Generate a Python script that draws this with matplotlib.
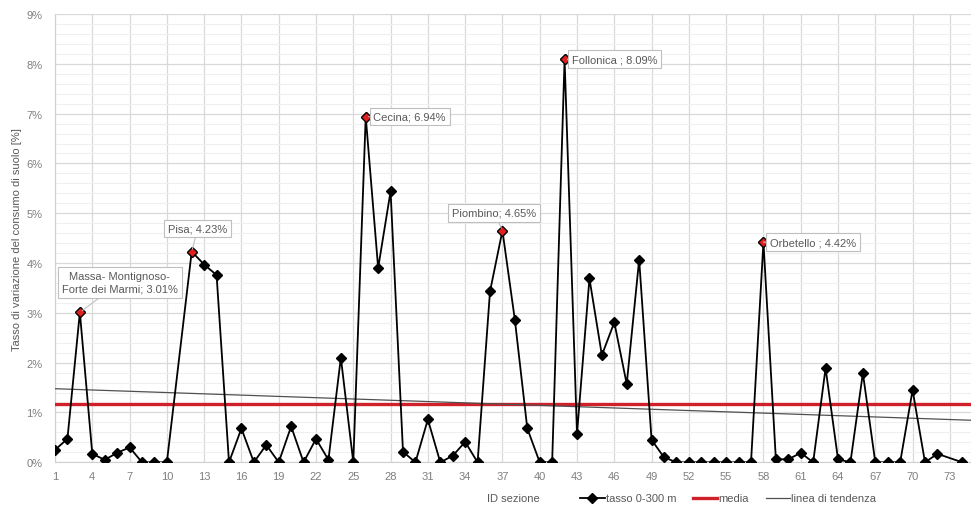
import matplotlib.pyplot as plt
import numpy as np

plt.rcParams['font.family'] = ['Liberation Sans Narrow', 'Liberation Sans', 'DejaVu Sans']

# ID sezione (11 and 73 have no value)
sezioni = [1, 2, 3, 4, 5, 6, 7, 8, 9, 10, 12, 13, 14, 15, 16, 17, 18, 19, 20,
           21, 22, 23, 24, 25, 26, 27, 28, 29, 30, 31, 32, 33, 34, 35, 36, 37,
           38, 39, 40, 41, 42, 43, 44, 45, 46, 47, 48, 49, 50, 51, 52, 53, 54,
           55, 56, 57, 58, 59, 60, 61, 62, 63, 64, 65, 66, 67, 68, 69, 70, 71,
           72, 74]
# tasso 0-300 m [%]
tasso = [0.25, 0.47, 3.01, 0.17, 0.05, 0.19, 0.30, 0.0, 0.0, 0.0, 4.23, 3.97,
         3.76, 0.0, 0.68, 0.0, 0.35, 0.0, 0.72, 0.0, 0.47, 0.05, 2.10, 0.0,
         6.94, 3.90, 5.44, 0.21, 0.0, 0.86, 0.0, 0.13, 0.41, 0.0, 3.43, 4.65,
         2.86, 0.68, 0.0, 0.0, 8.09, 0.57, 3.69, 2.15, 2.81, 1.57, 4.07, 0.45,
         0.10, 0.0, 0.0, 0.0, 0.0, 0.0, 0.0, 0.0, 4.42, 0.06, 0.06, 0.19, 0.0,
         1.89, 0.06, 0.0, 1.79, 0.0, 0.0, 0.0, 1.45, 0.0, 0.17, 0.0]

# labelled points
etichette_id = [3, 12, 26, 37, 42, 58]
etichette_txt = ['Massa- Montignoso-\nForte dei Marmi; 3.01%', 'Pisa; 4.23%',
                 'Cecina; 6.94%', 'Piombino; 4.65%', 'Follonica ; 8.09%',
                 'Orbetello ; 4.42%']
etichette_off = [(40, 30), (6, 23), (44, 0), (-8, 18), (50, 0), (50, 0)]

x = np.array(sezioni)
y = np.array(tasso)
media = y.mean()
coef = np.polyfit(x, y, 1)

fig = plt.figure(figsize=(9.71, 5.06), dpi=100)
ax = fig.add_axes([55 / 971, 1 - 463.3 / 506, 1 - 55 / 971, (463.3 - 15) / 506])

xlim = (1, 74.7)
ax.plot(xlim, [media, media], color='#d0202a', lw=2.4, label='media', zorder=3)
xt = np.array(xlim)
ax.plot(xt, np.polyval(coef, xt), color='#505050', lw=0.9, label='linea di tendenza', zorder=3)
ax.plot(x, y, color='black', lw=1.3, marker='D', ms=5, label='tasso 0-300 m', zorder=4)

for sid, txt, off in zip(etichette_id, etichette_txt, etichette_off):
    val = y[sezioni.index(sid)]
    ax.plot(sid, val, marker='D', ms=5, mfc='#e0201f', mec='black', mew=0.8, zorder=5)
    ax.annotate(txt, (sid, val), xytext=off, textcoords='offset pixels',
                ha='center', va='center', fontsize=8, color='#595959', linespacing=1.4,
                bbox=dict(boxstyle='square,pad=0.35', fc='white', ec='#bfbfbf', lw=0.8),
                arrowprops=dict(arrowstyle='-', color='#bfbfbf', lw=0.8, shrinkA=0, shrinkB=2),
                zorder=6)

ax.set_xlim(*xlim)
ax.set_ylim(0, 9)
ax.set_xticks(range(1, 75, 3))
ax.set_yticks(range(0, 10))
ax.set_yticks(np.arange(0, 9, 0.2), minor=True)
ax.set_yticklabels([f'{v}%' for v in range(0, 10)])
ax.tick_params(axis='both', which='both', length=0, labelsize=8, labelcolor='#7f7f7f')
ax.tick_params(axis='x', pad=6)
ax.tick_params(axis='y', pad=9)
ax.grid(which='major', color='#d9d9d9', lw=0.9)
ax.grid(which='minor', axis='y', color='#efefef', lw=0.8)
ax.set_axisbelow(True)
for s in ['top', 'right']:
    ax.spines[s].set_visible(False)
for s in ['left', 'bottom']:
    ax.spines[s].set_color('#d0d0d0')

ax.set_ylabel('Tasso di variazione del consumo di suolo [%]', fontsize=8, color='#595959', labelpad=3)
ax.set_xlabel('ID sezione', fontsize=8, color='#595959', labelpad=9)

h, l = ax.get_legend_handles_labels()
fig.legend([h[2], h[0], h[1]], [l[2], l[0], l[1]], loc='center', bbox_to_anchor=(0.75, 0.013),
           ncol=3, frameon=False, fontsize=8, labelcolor='#595959', handlelength=2.2,
           handletextpad=0.1, columnspacing=1.5)

fig.savefig('out.png', dpi=100)
